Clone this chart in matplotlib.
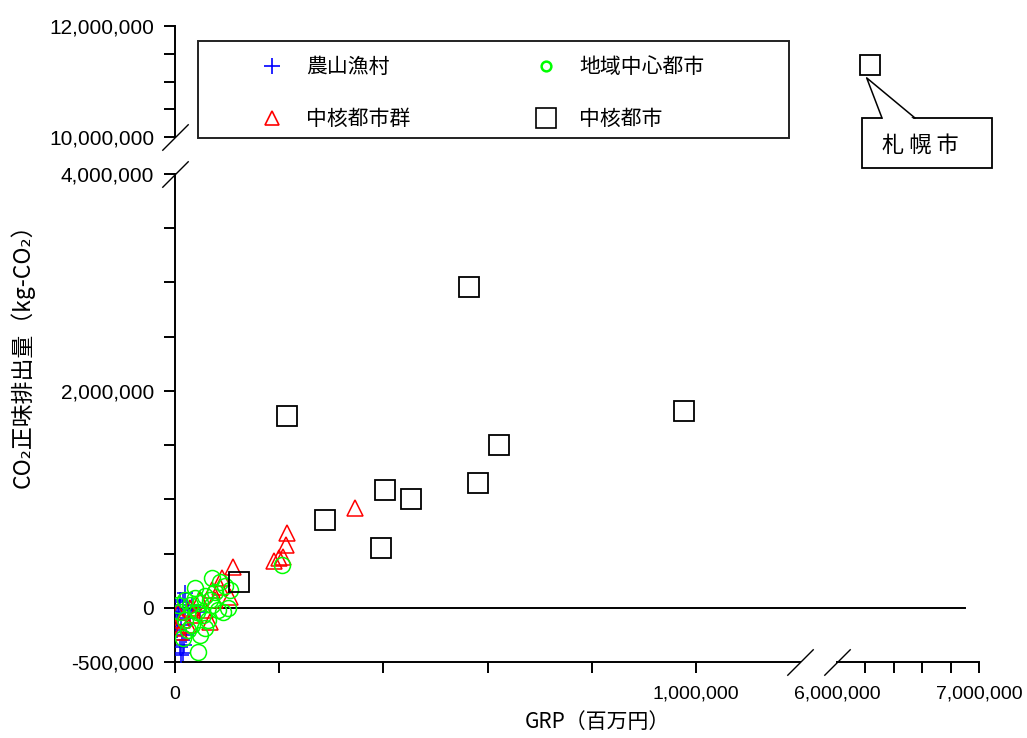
import matplotlib
matplotlib.use("Agg")
import matplotlib.pyplot as plt
from matplotlib.lines import Line2D
from matplotlib.patches import Rectangle, Polygon
import matplotlib.ticker as mticker

# ---------------- data ----------------
rural_x = [10000, 15000, 13000, 2000, 15000, 6000, 19000, 10000, 4000, 25000,
           33000, 12000, 21000, 48000, 8000, 17000, 5000, 28000, 11000]
rural_y = [-359000, -415000, -295000, -37000, 55000, -111000, 138000, 74000, -203000, -18000,
           28000, -157000, -249000, -37000, 0, -341000, -60000, -90000, -440000]

hub_group_x = [346000, 215000, 213000, 190000, 208000, 112000, 90000, 87000, 106000, 71000,
               48000, 29000, 13000, 10000, 38000, 58000, 6000, 67000, 25000, 77000, 2000, 200000]
hub_group_y = [922000, 691000, 581000, 433000, 470000, 378000, 276000, 194000, 101000, 166000,
               74000, 0, -111000, -221000, -65000, -18000, -37000, -129000, -157000, 74000, -184000, 460000]

regional_x = [71000, 86000, 96000, 206000, 83000, 92000, 48000, 44000, 19000, 29000,
              38000, 48000, 58000, 67000, 10000, 19000, 33000, 25000, 54000, 63000,
              42000, 77000, 6000, 15000, 71000, 38000, 106000, 102000, 58000]
regional_y = [276000, 240000, 203000, 396000, -18000, -37000, -249000, -406000, 74000, 28000,
              92000, 46000, 110000, 74000, -37000, -111000, -157000, -203000, -65000, -111000,
              -37000, 147000, 28000, -276000, 28000, 184000, 166000, 0, -184000]

core_x = [215000, 565000, 977000, 623000, 581000, 404000, 454000, 288000, 396000, 123000]
core_y = [1770000, 2960000, 1810000, 1500000, 1150000, 1090000, 1000000, 810000, 550000, 240000]

sapporo_x = [6230000]
sapporo_y = [11300000]

labels = ["農山漁村", "中核都市群", "地域中心都市", "中核都市"]
sapporo_label = "札 幌 市"
xlabel = "GRP（百万円）"
ylabel = "CO₂正味排出量（kg-CO₂）"

# ---------------- figure ----------------
W, H = 1027, 738
fig = plt.figure(figsize=(W / 100, H / 100), dpi=100)
fig.patch.set_facecolor("white")
JP = ["Noto Sans CJK JP", "DejaVu Sans"]
NUM = ["Liberation Sans", "DejaVu Sans"]


def rect(x0, y0, x1, y1):
    return [x0 / W, 1 - y1 / H, (x1 - x0) / W, (y1 - y0) / H]


def fpt(x, y):
    return (x / W, 1 - y / H)


ax = fig.add_axes(rect(175, 174, 800, 662))
ax_r = fig.add_axes(rect(837, 174, 979, 662))
ax_u = fig.add_axes(rect(175, 26, 800, 137))
ax_ur = fig.add_axes(rect(837, 26, 979, 137))

LW = 1.4
fmt = mticker.FuncFormatter(lambda v, p: f"{v:,.0f}")
for a in (ax, ax_r, ax_u, ax_ur):
    a.patch.set_visible(False)
    for s in a.spines.values():
        s.set_visible(False)
        s.set_linewidth(LW)
    a.tick_params(which="both", width=LW, color="black", direction="out", length=8)
    a.tick_params(axis="y", pad=7)
    a.tick_params(axis="x", pad=9)

# main axes
ax.set_xlim(0, 1200000)
ax.set_ylim(-500000, 4000000)
ax.spines["left"].set_visible(True)
ax.spines["bottom"].set_visible(True)
ax.set_xticks([0, 1000000])
ax.set_xticks([200000, 400000, 600000, 800000], minor=True)
ax.set_yticks([-500000, 0, 2000000, 4000000])
ax.set_yticks([500000, 1000000, 1500000, 2500000, 3000000, 3500000], minor=True)
ax.xaxis.set_major_formatter(fmt)
ax.yaxis.set_major_formatter(fmt)

# right (x-break) axes
ax_r.set_xlim(6000000, 7000000)
ax_r.set_ylim(-500000, 4000000)
ax_r.spines["bottom"].set_visible(True)
ax_r.set_xticks([6000000, 7000000])
ax_r.set_xticks([6200000, 6400000, 6600000, 6800000], minor=True)
ax_r.xaxis.set_major_formatter(fmt)
ax_r.set_yticks([])
ax_r.xaxis.get_major_ticks()[0].tick1line.set_visible(False)

# upper (y-break) axes
ax_u.set_xlim(0, 1200000)
ax_u.set_ylim(10000000, 12000000)
ax_u.spines["left"].set_visible(True)
ax_u.set_xticks([])
ax_u.set_yticks([10000000, 12000000])
ax_u.set_yticks([10500000, 11000000, 11500000], minor=True)
ax_u.yaxis.set_major_formatter(fmt)

ax_ur.set_xlim(6000000, 7000000)
ax_ur.set_ylim(10000000, 12000000)
ax_ur.set_xticks([])
ax_ur.set_yticks([])

for a in (ax, ax_r, ax_u):
    for lab in a.get_xticklabels():
        lab.set_family(NUM)
        lab.set_fontsize(14)
    for lab in a.get_yticklabels():
        lab.set_family(NUM)
        lab.set_fontsize(15)

# zero line across the break
ax.axhline(0, xmin=0, xmax=1.264, color="black", lw=LW, clip_on=False, zorder=1)

# break marks
brk = dict(marker=[(-1, -1), (1, 1)], markersize=19, color="black", mew=1.0,
           linestyle="none", clip_on=False, zorder=5)
ax_u.plot([0], [0], transform=ax_u.transAxes, **brk)
ax.plot([0], [1], transform=ax.transAxes, **brk)
ax.plot([1], [0], transform=ax.transAxes, **brk)
ax_r.plot([0], [0], transform=ax_r.transAxes, **brk)

# scatter
MEW = 1.1
ax.plot(rural_x, rural_y, linestyle="none", marker="+", color="blue", ms=11, mew=MEW, zorder=3)
ax.plot(hub_group_x, hub_group_y, linestyle="none", marker="^", mfc="none", mec="red",
        ms=12, mew=MEW, zorder=3)
ax.plot(regional_x, regional_y, linestyle="none", marker="o", mfc="none", mec="#00ff00",
        ms=11.5, mew=MEW, zorder=3)
ax.plot(core_x, core_y, linestyle="none", marker="s", mfc="none", mec="black",
        ms=14.5, mew=MEW + 0.2, zorder=4)
ax_ur.plot(sapporo_x, sapporo_y, linestyle="none", marker="s", mfc="none", mec="black",
           ms=14.5, mew=MEW + 0.2, zorder=4, clip_on=False)

# Sapporo callout: box, wedge pointing to the marker
px, py = ax_ur.transData.transform((sapporo_x[0], sapporo_y[0]))
tip = fig.transFigure.inverted().transform((px - 3, py - 13))
box_l, box_t, box_r, box_b = 862, 118, 992, 168
fig.add_artist(Rectangle(fpt(box_l, box_b), (box_r - box_l) / W, (box_b - box_t) / H,
                         transform=fig.transFigure, fc="white", ec="black", lw=1.3, zorder=6))
bl, br = fpt(882, box_t), fpt(915, box_t)
fig.add_artist(Polygon([fpt(883, box_t + 1.5), tuple(tip), fpt(914, box_t + 1.5)], closed=True,
                       transform=fig.transFigure, fc="white", ec="none", zorder=7))
fig.add_artist(Line2D([bl[0], tip[0], br[0]], [bl[1], tip[1], br[1]],
                      transform=fig.transFigure, color="black", lw=1.1, zorder=8))
fig.text(920 / W, 1 - 145 / H, sapporo_label, ha="center", va="center",
         fontsize=16, family=JP, zorder=9)

# legend
handles = [
    Line2D([], [], linestyle="none", marker="+", color="blue", ms=12, mew=1.2),
    Line2D([], [], linestyle="none", marker="^", mfc="none", mec="red", ms=10, mew=1.2),
    Line2D([], [], linestyle="none", marker="o", mfc="none", mec="#00ff00", ms=7, mew=1.8),
    Line2D([], [], linestyle="none", marker="s", mfc="none", mec="black", ms=14, mew=1.2),
]
leg = ax_u.legend(handles, labels, ncol=2, frameon=False, loc="upper left",
                  bbox_to_anchor=(262 / W, 1 - 56 / H), bbox_transform=fig.transFigure,
                  borderpad=0, borderaxespad=0, handlelength=1.0, handletextpad=1.1,
                  columnspacing=6.0, labelspacing=1.45,
                  prop={"family": JP, "size": 15})
fig.add_artist(Rectangle((198 / W, 1 - 138 / H), (789 - 198) / W, (138 - 41) / H,
                         transform=fig.transFigure, fill=False, ec="#222222", lw=1.4))

# axis labels
fig.text(597 / W, 1 - 722 / H, xlabel, ha="center", va="center", fontsize=15, family=JP)
fig.text(22 / W, 1 - 350 / H, ylabel, ha="center", va="center", rotation=90,
         fontsize=16.5, family=JP)

fig.savefig("out.png", dpi=100)
